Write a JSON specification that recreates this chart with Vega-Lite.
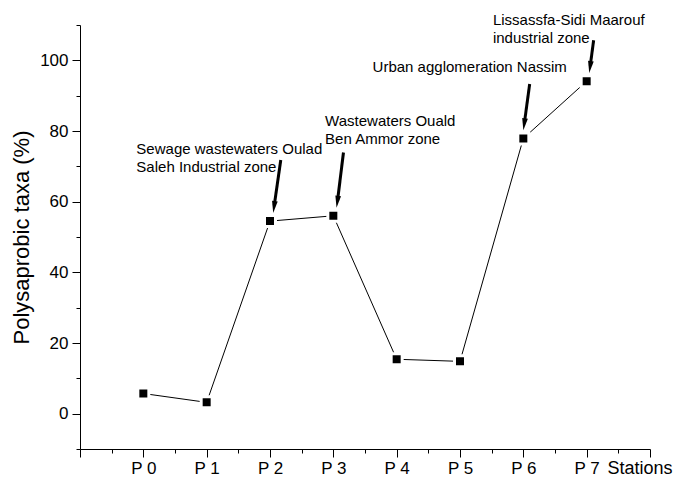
{
  "$schema": "https://vega.github.io/schema/vega-lite/v6.json",
  "autosize": {"type": "none"},
  "width": 570,
  "height": 424,
  "padding": {"left": 80, "top": 25, "right": 30, "bottom": 30},
  "background": "white",
  "config": {
    "view": {"stroke": null},
    "axis": {"grid": false, "domainColor": "black", "tickColor": "black", "labelColor": "black", "titleColor": "black", "labelFont": "Liberation Sans", "titleFont": "Liberation Sans", "titleFontWeight": "normal", "domainWidth": 1, "tickWidth": 1},
    "text": {"font": "Liberation Sans"}
  },
  "datasets": {
    "stations": [
      {"station": "P 0", "idx": 0, "value": 5.7},
      {"station": "P 1", "idx": 1, "value": 3.2},
      {"station": "P 2", "idx": 2, "value": 54.5},
      {"station": "P 3", "idx": 3, "value": 56.0},
      {"station": "P 4", "idx": 4, "value": 15.4},
      {"station": "P 5", "idx": 5, "value": 14.8},
      {"station": "P 6", "idx": 6, "value": 77.9},
      {"station": "P 7", "idx": 7, "value": 94.1}
    ],
    "arrows": [
      {"target": "P 2", "x": 2.17, "y": 71.8, "x2": 2.067, "y2": 58.9},
      {"target": "P 3", "x": 3.16, "y": 73.9, "x2": 3.067, "y2": 60.4},
      {"target": "P 6", "x": 6.10, "y": 93.3, "x2": 6.017, "y2": 82.3},
      {"target": "P 7", "x": 7.11, "y": 105.7, "x2": 7.057, "y2": 98.5}
    ],
    "notes": [
      {"x": -0.11, "y": 73.4, "label": "Sewage wastewaters Oulad\nSaleh Industrial zone"},
      {"x": 2.87, "y": 81.5, "label": "Wastewaters Ouald\nBen Ammor zone"},
      {"x": 3.62, "y": 96.7, "label": "Urban agglomeration Nassim"},
      {"x": 5.52, "y": 110.1, "label": "Lissassfa-Sidi Maarouf\nindustrial zone"}
    ]
  },
  "resolve": {"axis": {"x": "independent", "y": "independent"}},
  "layer": [
    {
      "data": {"name": "stations"},
      "mark": {"type": "point", "opacity": 0},
      "encoding": {
        "x": {"field": "idx", "type": "quantitative", "scale": {"domain": [-1, 8], "nice": false, "zero": false},
          "axis": {"orient": "bottom", "values": [-0.5, 0.5, 1.5, 2.5, 3.5, 4.5, 5.5, 6.5, 7.5], "tickSize": 4, "labels": false, "domain": false, "title": null}},
        "y": {"field": "value", "type": "quantitative", "scale": {"domain": [-10, 110], "nice": false, "zero": false},
          "axis": {"orient": "left", "values": [-10, 10, 30, 50, 70, 90, 110], "tickSize": 4, "labels": false, "domain": false, "title": null}}
      }
    },
    {
      "data": {"name": "stations"},
      "mark": {"type": "line", "color": "black", "strokeWidth": 1},
      "encoding": {
        "x": {"field": "idx", "type": "quantitative", "scale": {"domain": [-1, 8], "nice": false, "zero": false},
          "axis": {"orient": "bottom", "values": [-1, 0, 1, 2, 3, 4, 5, 6, 7, 8], "tickSize": 8,
            "labelExpr": "datum.value >= 0 && datum.value <= 7 ? 'P ' + datum.value : ''",
            "labelFontSize": 17, "labelPadding": 3, "labelFlush": false, "labelOverlap": false,
            "title": "Stations", "titleFontSize": 18, "titleX": 527, "titleY": 24, "titleAlign": "left", "titleBaseline": "alphabetic"}},
        "y": {"field": "value", "type": "quantitative", "scale": {"domain": [-10, 110], "nice": false, "zero": false},
          "axis": {"orient": "left", "values": [0, 20, 40, 60, 80, 100], "tickSize": 8, "labelFontSize": 17, "labelPadding": 4,
            "title": "Polysaprobic taxa (%)", "titleFontSize": 22, "titlePadding": 6}}
      }
    },
    {
      "data": {"name": "stations"},
      "mark": {"type": "point", "shape": "square", "filled": true, "fill": "black", "stroke": "white", "strokeWidth": 3, "size": 121, "opacity": 1},
      "encoding": {
        "x": {"field": "idx", "type": "quantitative", "axis": null},
        "y": {"field": "value", "type": "quantitative", "axis": null}
      }
    },
    {
      "data": {"name": "arrows"},
      "mark": {"type": "rule", "color": "black", "strokeWidth": 3},
      "encoding": {
        "x": {"field": "x", "type": "quantitative", "axis": null},
        "y": {"field": "y", "type": "quantitative", "axis": null},
        "x2": {"field": "x2"},
        "y2": {"field": "y2"}
      }
    },
    {
      "data": {"name": "arrows"},
      "mark": {"type": "point", "shape": "M0,1L-0.38,-0.6L0.38,-0.6Z", "filled": true, "fill": "black", "strokeWidth": 0, "size": 225, "angle": 8, "opacity": 1},
      "encoding": {
        "x": {"field": "x2", "type": "quantitative", "axis": null},
        "y": {"field": "y2", "type": "quantitative", "axis": null}
      }
    },
    {
      "data": {"name": "notes"},
      "mark": {"type": "text", "align": "left", "baseline": "alphabetic", "fontSize": 15, "lineBreak": "\n", "lineHeight": 18, "color": "black"},
      "encoding": {
        "x": {"field": "x", "type": "quantitative", "axis": null},
        "y": {"field": "y", "type": "quantitative", "axis": null},
        "text": {"field": "label"}
      }
    }
  ]
}
